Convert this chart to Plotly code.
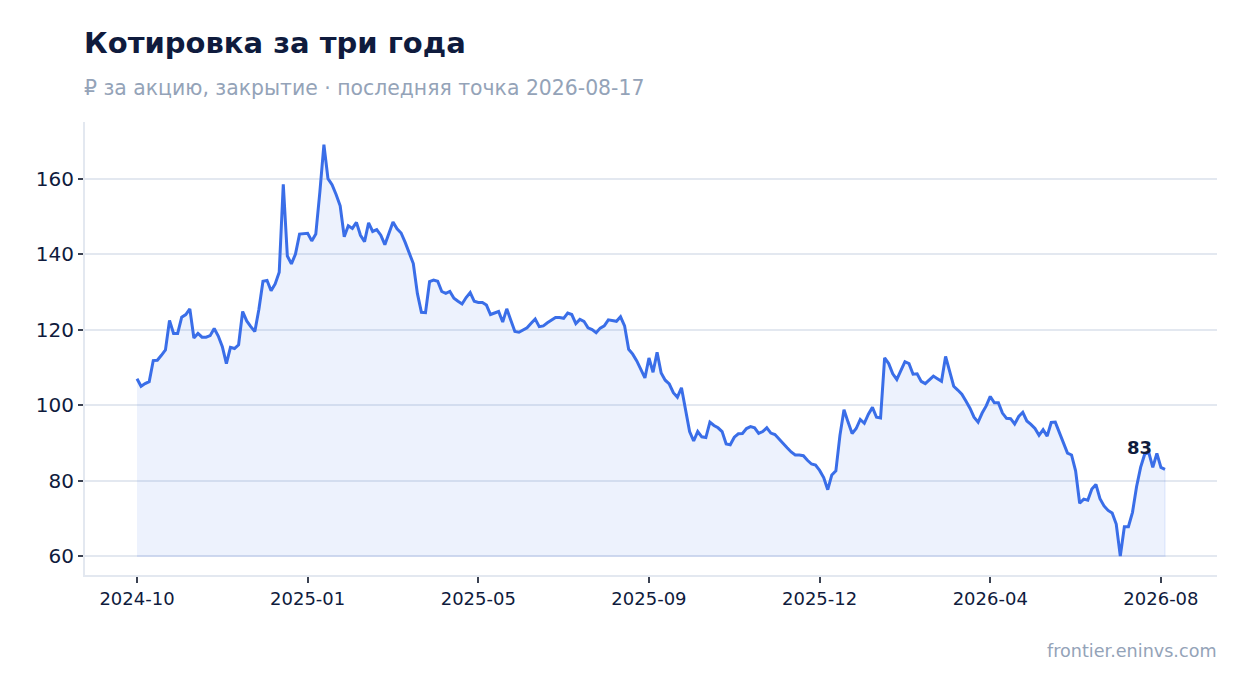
import plotly.graph_objects as go

title = "Котировка за три года"
subtitle = "₽ за акцию, закрытие · последняя точка 2026-08-17"
source = "frontier.eninvs.com"

tick_labels = ["2024-10", "2025-01", "2025-05", "2025-09", "2025-12", "2026-04", "2026-08"]
tick_step = 42

prices = [
    107.0, 105.0, 105.7, 106.2, 111.8, 111.9, 113.2, 114.6, 122.4, 119.0,
    119.0, 123.3, 124.0, 125.5, 117.8, 119.0, 118.0, 118.0, 118.4, 120.3,
    118.3, 115.5, 111.0, 115.3, 115.0, 116.0, 124.8, 122.3, 120.8, 119.5,
    125.4, 132.8, 133.0, 130.3, 132.1, 135.2, 158.5, 139.5, 137.4, 140.0,
    145.3, 145.5, 145.5, 143.5, 145.3, 156.4, 169.0, 160.0, 158.4, 155.8,
    152.8, 144.6, 147.5, 146.8, 148.4, 145.0, 143.3, 148.3, 146.0, 146.5,
    145.0, 142.5, 145.3, 148.5, 146.7, 145.6, 143.1, 140.5, 137.5, 129.6,
    124.6, 124.5, 132.7, 133.1, 132.8, 130.1, 129.6, 130.1, 128.3, 127.5,
    126.8, 128.5, 129.8, 127.5, 127.2, 127.2, 126.5, 124.0, 124.5, 124.8,
    122.0, 125.5, 122.5, 119.5, 119.3, 119.8, 120.5, 121.7, 122.8, 120.8,
    121.0, 121.8, 122.6, 123.2, 123.2, 123.0, 124.4, 124.0, 121.6, 122.7,
    122.2, 120.5, 120.0, 119.2, 120.4, 121.0, 122.6, 122.3, 122.2, 123.4,
    121.0, 114.8, 113.5, 111.7, 109.3, 107.2, 112.5, 108.7, 114.0, 108.5,
    106.6, 105.6, 103.3, 102.1, 104.6, 98.6, 93.0, 90.5, 93.0, 91.6,
    91.4, 95.5, 94.6, 94.0, 93.0, 89.7, 89.5, 91.5, 92.4, 92.5,
    93.8, 94.3, 94.0, 92.5, 93.0, 94.0, 92.6, 92.2, 91.0, 89.7,
    88.7, 87.6, 86.8, 86.8, 86.6, 85.4, 84.4, 84.1, 82.7, 80.8,
    77.6, 81.5, 82.6, 92.0, 98.8, 95.5, 92.5, 93.8, 96.2, 95.2,
    97.6, 99.4, 96.8, 96.6, 112.5, 111.0, 108.3, 106.8, 109.1, 111.5,
    111.0, 108.2, 108.3, 106.3, 105.7, 106.8, 107.7, 107.0, 106.3, 112.9,
    108.9, 105.0, 104.0, 102.9, 101.1, 99.2, 96.8, 95.5, 97.9, 99.8,
    102.3, 100.6, 100.6, 97.9, 96.5, 96.4, 95.0, 97.0, 98.1, 95.8,
    94.9, 93.8, 92.0, 93.5, 91.8, 95.4, 95.5, 92.8, 90.3, 87.3,
    86.8, 82.6, 74.0, 75.1, 74.8, 77.8, 79.0, 75.2, 73.3, 72.1,
    71.4, 68.5, 60.0, 67.8, 67.8, 71.6, 78.4, 83.5, 87.0, 87.5,
    83.5, 87.2, 83.5, 83.0,
]

idx = list(range(len(prices)))
base = min(prices)
last_label = f"{prices[-1]:.0f}"

LINE = "#3a6ee8"
FILL = "rgba(58,110,232,0.09)"
GRID = "#e3e8f0"
INK = "#0f1b3d"
MUTED = "#94a3b8"
FONT = "DejaVu Sans"

fig = go.Figure()

# filled area polygon (down to the minimum)
fig.add_trace(go.Scatter(
    x=idx + idx[::-1],
    y=prices + [base] * len(prices),
    fill="toself",
    fillcolor=FILL,
    line=dict(color="rgba(58,110,232,0.10)", width=1.5),
    mode="lines",
    hoverinfo="skip",
    showlegend=False,
))

fig.add_trace(go.Scatter(
    x=idx,
    y=prices,
    mode="lines",
    line=dict(color=LINE, width=3),
    showlegend=False,
))

fig.add_annotation(
    x=idx[-1], y=prices[-1], text=f"<b>{last_label}</b>",
    xanchor="right", yanchor="bottom", xshift=-11, yshift=9,
    showarrow=False, font=dict(family=FONT, size=18, color=INK),
)

fig.add_annotation(
    xref="paper", yref="paper", x=0, y=1, xanchor="left", yanchor="bottom",
    yshift=60, xshift=-3, text=f"<b>{title}</b>", showarrow=False,
    font=dict(family=FONT, size=29, color=INK),
)
fig.add_annotation(
    xref="paper", yref="paper", x=0, y=1, xanchor="left", yanchor="bottom",
    yshift=20, xshift=-3, text=subtitle, showarrow=False,
    font=dict(family=FONT, size=20.4, color=MUTED),
)
fig.add_annotation(
    xref="paper", yref="paper", x=1, y=0, xanchor="right", yanchor="top",
    yshift=-64, xshift=2, text=source, showarrow=False,
    font=dict(family=FONT, size=17.6, color=MUTED),
)

fig.update_layout(
    width=1247, height=693,
    margin=dict(l=77, r=38, t=114, b=126),
    paper_bgcolor="white", plot_bgcolor="white",
    font=dict(family=FONT, size=18, color=INK),
    xaxis=dict(
        range=[-12.8, 265.8],
        tickvals=[i * tick_step for i in range(len(tick_labels))],
        ticktext=tick_labels,
        showgrid=False, zeroline=False,
        showline=True, linecolor=GRID, linewidth=2,
        ticks="outside", ticklen=6, tickwidth=2, tickcolor="#3b4252",
        tickfont=dict(size=18, color=INK),
    ),
    yaxis=dict(
        range=[55, 175],
        tickvals=[60, 80, 100, 120, 140, 160],
        showgrid=True, gridcolor=GRID, gridwidth=2, zeroline=False,
        showline=True, linecolor=GRID, linewidth=2,
        ticks="outside", ticklen=5, tickwidth=2, tickcolor="#3b4252",
        tickfont=dict(size=20, color=INK),
    ),
)

fig.write_html("out.html")
